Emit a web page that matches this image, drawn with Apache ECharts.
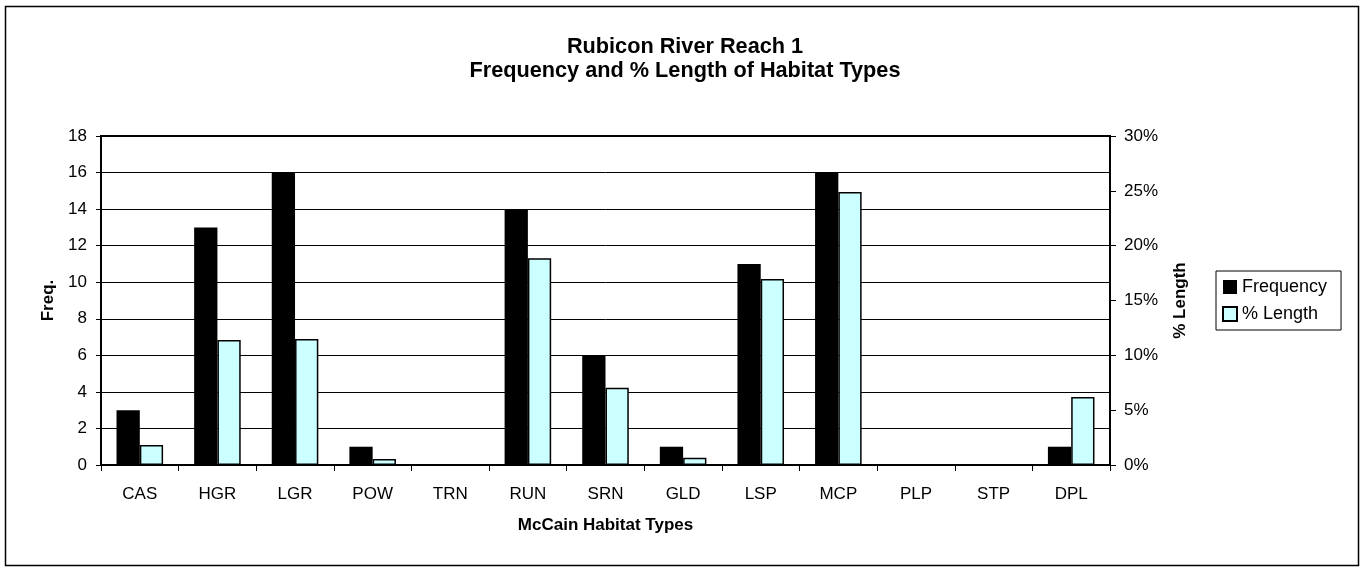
<!DOCTYPE html>
<html>
<head>
<meta charset="utf-8">
<script src="https://cdn.jsdelivr.net/npm/echarts@6/dist/echarts.min.js"></script>
<style>
html,body{margin:0;padding:0;background:#fff;}
#chart{width:1360px;height:567px;}
</style>
</head>
<body>
<div id="chart"></div>
<script>
const categories = ['CAS','HGR','LGR','POW','TRN','RUN','SRN','GLD','LSP','MCP','PLP','STP','DPL'];
const frequency = [3,13,16,1,0,14,6,1,11,16,0,0,1];
const pctLength = [0.0182,0.114,0.115,0.0055,0,0.1885,0.0704,0.0067,0.1697,0.249,0,0,0.0619];
const freqTicks = {min:0,max:18,interval:2};
const pctTicks = {min:0,max:0.30,interval:0.05};

const FONT = "'Liberation Sans', Arial, sans-serif";
const chart = echarts.init(document.getElementById('chart'), null, {renderer:'canvas'});
chart.setOption({
  animation:false,
  backgroundColor:'#fff',
  textStyle:{fontFamily:FONT},
  graphic:[{
    type:'rect', left:3, top:4, shape:{width:1353, height:559},
    style:{fill:null, stroke:'#000', lineWidth:1.5}, silent:true
  }],
  title:{
    text:'Rubicon River Reach 1\nFrequency and % Length of Habitat Types',
    left:680, textAlign:'center', top:30,
    textStyle:{fontFamily:FONT, fontSize:21.7, fontWeight:'bold', color:'#000', lineHeight:24}
  },
  legend:{
    orient:'vertical', left:1216, top:271,
    data:['Frequency','% Length'],
    icon:'rect', itemWidth:14, itemHeight:14, itemGap:7,
    borderColor:'#000', borderWidth:1, padding:[6,14,6,6],
    textStyle:{fontFamily:FONT, fontSize:18, color:'#000', lineHeight:20}
  },
  grid:{left:101, right:250, top:136, bottom:102, show:true, borderColor:'#000', borderWidth:2, backgroundColor:'transparent'},
  xAxis:{
    type:'category', data:categories,
    name:'McCain Habitat Types', nameLocation:'middle', nameGap:52,
    nameTextStyle:{fontFamily:FONT, fontSize:17, fontWeight:'bold', color:'#000'},
    axisLine:{lineStyle:{color:'#000', width:2}},
    axisTick:{show:true, length:6, lineStyle:{color:'#000'}},
    axisLabel:{fontFamily:FONT, fontSize:17, color:'#000', margin:21}
  },
  yAxis:[{
    type:'value', min:freqTicks.min, max:freqTicks.max, interval:freqTicks.interval,
    name:'Freq.', nameLocation:'middle', nameGap:44, nameRotate:90,
    nameTextStyle:{fontFamily:FONT, fontSize:17, fontWeight:'bold', color:'#000'},
    axisLine:{show:true, lineStyle:{color:'#000', width:2}},
    axisTick:{show:true, length:5, lineStyle:{color:'#000'}},
    axisLabel:{fontFamily:FONT, fontSize:17, color:'#000', margin:14},
    splitLine:{show:true, lineStyle:{color:'#000', width:1}}
  },{
    type:'value', min:pctTicks.min, max:pctTicks.max, interval:pctTicks.interval,
    name:'% Length', nameLocation:'middle', nameGap:62, nameRotate:90,
    nameTextStyle:{fontFamily:FONT, fontSize:17, fontWeight:'bold', color:'#000'},
    axisLine:{show:true, lineStyle:{color:'#000', width:2}},
    axisTick:{show:true, length:6, lineStyle:{color:'#000'}},
    axisLabel:{fontFamily:FONT, fontSize:17, color:'#000', margin:14,
      formatter:v=>Math.round(v*100)+'%'},
    splitLine:{show:false}
  }],
  series:[{
    name:'Frequency', type:'bar', yAxisIndex:0, data:frequency,
    barGap:'0%', barCategoryGap:'40%',
    itemStyle:{color:'#000', borderColor:'#000', borderWidth:0}
  },{
    name:'% Length', type:'bar', yAxisIndex:1, data:pctLength,
    itemStyle:{color:'#CCFFFF', borderColor:'#000', borderWidth:1.5}
  }]
});
</script>
</body>
</html>
